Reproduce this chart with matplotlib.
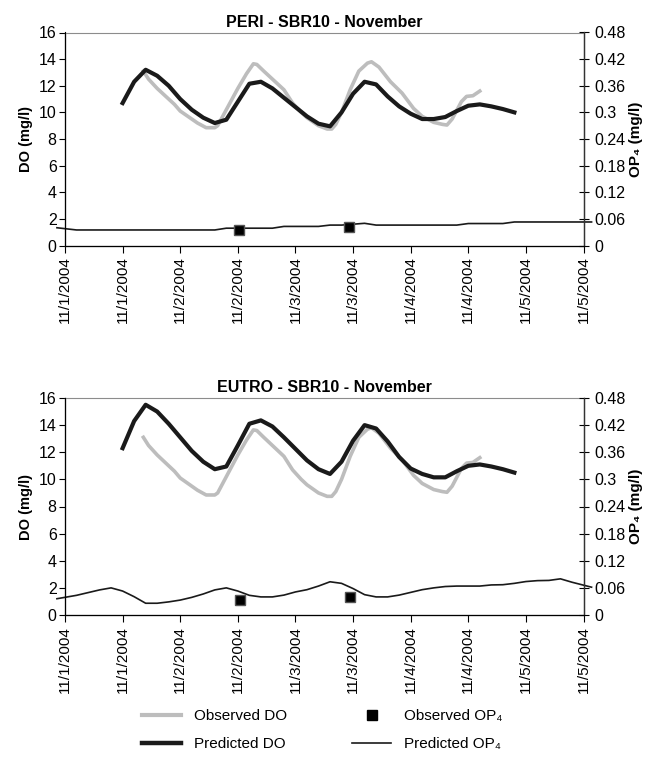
import numpy as np
import matplotlib
matplotlib.use("Agg")
import matplotlib.pyplot as plt
from matplotlib.lines import Line2D

plt.rcParams["font.family"] = ["Liberation Sans", "DejaVu Sans"]

# x in days from 11/1/2004 00:00
TICK_DAYS = [0, 0.5, 1, 1.5, 2, 2.5, 3, 3.5, 4, 4.5]
TICK_LABELS = ["11/1/2004", "11/1/2004", "11/2/2004", "11/2/2004", "11/3/2004",
               "11/3/2004", "11/4/2004", "11/4/2004", "11/5/2004", "11/5/2004"]

# predicted DO, every 0.1 day from 0.5 to 3.9
pred_days = np.round(np.arange(0.5, 3.95, 0.1), 2)
peri_pred_do = [10.7, 12.3, 13.2, 12.75, 12.0, 11.0, 10.2, 9.6, 9.2, 9.45,
                10.8, 12.15, 12.3, 11.8, 11.1, 10.4, 9.7, 9.15, 8.95, 10.0,
                11.4, 12.3, 12.1, 11.2, 10.45, 9.9, 9.5, 9.5, 9.65, 10.1,
                10.5, 10.6, 10.45, 10.25, 10.0]
eutro_pred_do = [12.3, 14.3, 15.5, 15.0, 14.1, 13.1, 12.1, 11.3, 10.75, 10.95,
                 12.5, 14.1, 14.35, 13.9, 13.1, 12.25, 11.4, 10.75, 10.4, 11.3,
                 12.85, 14.0, 13.75, 12.8, 11.65, 10.8, 10.4, 10.15, 10.15, 10.6,
                 11.0, 11.1, 10.95, 10.75, 10.5]

# observed DO
obs_days = [0.68, 0.725, 0.8, 0.875, 0.95, 1.0, 1.05, 1.15, 1.225, 1.3, 1.325,
            1.4, 1.5, 1.575, 1.635, 1.665, 1.725, 1.8, 1.9, 1.975, 2.05, 2.1,
            2.2, 2.275, 2.315, 2.35, 2.4, 2.475, 2.55, 2.625, 2.66, 2.725,
            2.825, 2.925, 3.025, 3.1, 3.2, 3.275, 3.315, 3.36, 3.44, 3.485,
            3.54, 3.6]
obs_do = [13.1, 12.5, 11.8, 11.2, 10.6, 10.1, 9.8, 9.2, 8.85, 8.85, 9.0,
          10.2, 11.8, 12.9, 13.65, 13.6, 13.1, 12.5, 11.7, 10.7, 10.0, 9.6,
          9.0, 8.75, 8.75, 9.1, 10.0, 11.7, 13.1, 13.7, 13.8, 13.4,
          12.3, 11.45, 10.3, 9.7, 9.25, 9.1, 9.05, 9.5, 10.8, 11.2,
          11.25, 11.6]

# predicted OP4
op4_days = np.concatenate([[-0.07], np.round(np.arange(0.1, 4.55, 0.1), 2), [4.57]])
peri_pred_op4 = [0.040, 0.035, 0.035, 0.035, 0.035, 0.035, 0.035, 0.035, 0.035,
                 0.035, 0.035, 0.035, 0.035, 0.035, 0.039, 0.039, 0.039, 0.039,
                 0.039, 0.043, 0.043, 0.043, 0.043, 0.046, 0.046, 0.048, 0.050,
                 0.046, 0.046, 0.046, 0.046, 0.046, 0.046, 0.046, 0.046, 0.0495,
                 0.0495, 0.0495, 0.0495, 0.053, 0.053, 0.053, 0.053, 0.053, 0.053,
                 0.053, 0.053]
eutro_pred_op4 = [0.036, 0.0435, 0.0495, 0.0555, 0.060, 0.053, 0.0405, 0.026,
                  0.026, 0.029, 0.033, 0.039, 0.0465, 0.0555, 0.060, 0.053,
                  0.0435, 0.040, 0.040, 0.044, 0.051, 0.056, 0.064, 0.0735,
                  0.070, 0.0585, 0.045, 0.040, 0.040, 0.044, 0.050, 0.056,
                  0.060, 0.063, 0.064, 0.064, 0.064, 0.0665, 0.067, 0.070,
                  0.074, 0.076, 0.0765, 0.080, 0.0725, 0.066, 0.0615]

# observed OP4
peri_obs_days = [1.51, 2.465]
peri_obs_op4 = [0.036, 0.042]
eutro_obs_days = [1.515, 2.475]
eutro_obs_op4 = [0.033, 0.040]

GRAY = "#bdbdbd"
DARK = "#1a1a1a"

fig = plt.figure(figsize=(6.63, 7.63), dpi=100)


def panel(rect, title, pred_do, pred_op4, o_days, o_op4):
    ax = fig.add_axes(rect)
    ax.plot(obs_days, obs_do, color=GRAY, lw=2.6, solid_joinstyle="round")
    ax.plot(pred_days, pred_do, color=DARK, lw=3.0)
    ax.set_xlim(0, 4.5)
    ax.set_ylim(0, 16)
    ax.set_yticks(range(0, 17, 2))
    ax.set_xticks(TICK_DAYS)
    ax.set_xticklabels(TICK_LABELS, rotation=90, fontsize=11)
    ax.tick_params(axis="y", labelsize=11.5, direction="out", length=4, width=0.8, pad=2)
    ax.tick_params(axis="x", direction="out", length=5, width=0.8, pad=3)
    ax.set_ylabel("DO (mg/l)", fontsize=10.5, fontweight="bold", labelpad=4)
    ax.set_title(title, fontsize=11.5, fontweight="bold", pad=4)
    for s in ["left", "bottom", "right"]:
        ax.spines[s].set_color("#333333")
        ax.spines[s].set_linewidth(0.9)
    ax.spines["top"].set_color("#8c8c8c")
    ax.spines["top"].set_linewidth(0.8)

    ax2 = ax.twinx()
    ax2.plot(op4_days, pred_op4, color=DARK, lw=1.2, clip_on=False)
    ax2.plot(o_days, o_op4, ls="none", marker="s", ms=7, color="black",
             markeredgecolor="#555555")
    ax2.set_ylim(0, 0.48)
    ax2.set_yticks([0, 0.06, 0.12, 0.18, 0.24, 0.3, 0.36, 0.42, 0.48])
    ax2.set_yticklabels(["0", "0.06", "0.12", "0.18", "0.24", "0.3", "0.36", "0.42", "0.48"])
    ax2.tick_params(axis="y", labelsize=11.5, direction="inout", length=7, width=0.8, pad=4)
    ax2.set_ylabel("OP\u2084 (mg/l)", fontsize=11, fontweight="bold",
                   rotation=90, labelpad=3)
    ax2.spines["right"].set_color("#333333")
    ax2.spines["right"].set_linewidth(0.9)
    ax2.spines["top"].set_visible(False)
    return ax


panel([65 / 663, 1 - 245.5 / 763, (583.5 - 65) / 663, 213 / 763],
      "PERI - SBR10 - November", peri_pred_do, peri_pred_op4,
      peri_obs_days, peri_obs_op4)
panel([65 / 663, 1 - 615 / 763, (583.5 - 65) / 663, 217 / 763],
      "EUTRO - SBR10 - November", eutro_pred_do, eutro_pred_op4,
      eutro_obs_days, eutro_obs_op4)

handles = [
    Line2D([], [], color=GRAY, lw=3),
    Line2D([], [], color=DARK, lw=3.2),
    Line2D([], [], ls="none", marker="s", ms=7, color="black"),
    Line2D([], [], color=DARK, lw=1.2),
]
labels = ["Observed DO", "Predicted DO", "Observed OP\u2084", "Predicted OP\u2084"]
fig.legend(handles, labels, ncol=2, loc="center left", bbox_to_anchor=(0.193, 0.043),
           frameon=False, fontsize=11, handlelength=2.6, handletextpad=0.85,
           columnspacing=4.2, labelspacing=0.95)

fig.savefig("out.png", dpi=100)
